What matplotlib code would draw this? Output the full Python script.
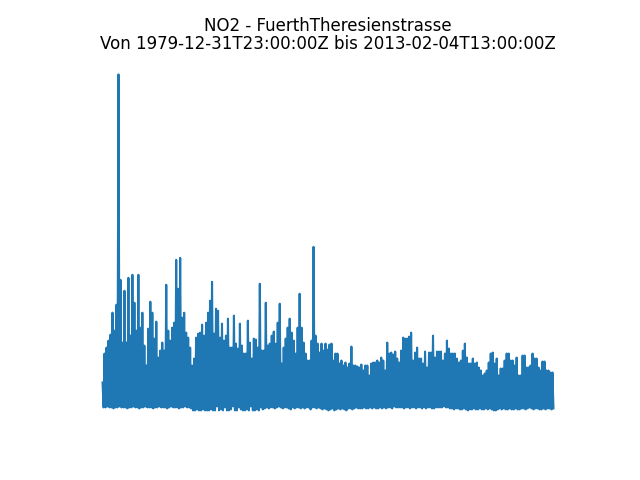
import numpy as np
import pandas as pd
import matplotlib
matplotlib.use("Agg")
import matplotlib.pyplot as plt

station = "FuerthTheresienstrasse"
start = "1979-12-31T23:00:00Z"
end = "2013-02-04T13:00:00Z"

# upper envelope of NO2 readings
peaks = [
    28, 57, 63, 70, 76, 98, 80, 106, 337, 131,
    68, 120, 68, 133, 75, 136, 108, 80, 136, 83,
    98, 65, 45, 82, 109, 98, 72, 89, 53, 60,
    68, 60, 126, 80, 70, 83, 88, 151, 122, 153,
    93, 98, 78, 73, 63, 45, 52, 73, 77, 78,
    86, 75, 88, 98, 110, 129, 77, 102, 100, 73,
    87, 70, 75, 92, 63, 63, 95, 67, 62, 87,
    65, 57, 57, 90, 68, 52, 72, 71, 63, 127,
    60, 60, 108, 65, 67, 75, 79, 67, 88, 107,
    47, 63, 72, 83, 92, 78, 70, 57, 83, 117,
    83, 68, 57, 50, 50, 70, 164, 75, 67, 58,
    67, 60, 67, 61, 66, 67, 50, 57, 57, 47,
    50, 45, 48, 43, 47, 64, 45, 45, 44, 43,
    46, 40, 45, 45, 35, 47, 48, 48, 50, 48,
    53, 50, 40, 68, 57, 58, 56, 59, 52, 48,
    60, 73, 72, 72, 74, 78, 50, 58, 63, 52,
    52, 47, 59, 43, 58, 58, 75, 53, 59, 59,
    59, 50, 57, 70, 62, 57, 57, 57, 52, 48,
    50, 60, 67, 53, 47, 47, 52, 47, 48, 43,
    40, 35, 37, 40, 48, 57, 58, 47, 52, 35,
    42, 42, 50, 57, 57, 50, 50, 45, 53, 35,
    35, 55, 55, 43, 43, 45, 57, 52, 52, 43,
    40, 49, 49, 40, 40, 38, 38,
]

# lower envelope of NO2 readings
troughs = [
    3, 3, 4, 3, 3, 2, 3, 3, 4, 3,
    3, 3, 2, 3, 3, 4, 3, 3, 2, 3,
    3, 4, 3, 3, 3, 2, 3, 3, 4, 3,
    3, 3, 2, 3, 4, 3, 3, 3, 2, 3,
    3, 4, 3, 3, 2, 0, 0, 1, 0, 0,
    1, 0, 0, 0, 1, 0, 0, 4, 0, 1,
    0, 3, 0, 0, 1, 4, 0, 0, 3, 1,
    0, 0, 1, 0, 4, 0, 0, 1, 0, 3,
    1, 2, 3, 2, 3, 3, 2, 3, 4, 3,
    2, 3, 3, 2, 1, 3, 2, 3, 3, 2,
    3, 2, 3, 3, 1, 3, 3, 2, 3, 2,
    1, 2, 1, 0, 1, 2, 0, 1, 2, 1,
    2, 1, 0, 2, 2, 1, 2, 3, 2, 2,
    2, 3, 2, 2, 3, 2, 3, 2, 2, 3,
    2, 3, 2, 3, 3, 2, 4, 3, 3, 3,
    3, 2, 3, 3, 2, 3, 3, 2, 3, 3,
    2, 3, 2, 3, 3, 2, 2, 3, 3, 3,
    3, 4, 3, 3, 2, 2, 1, 2, 2, 1,
    1, 2, 1, 0, 1, 1, 2, 1, 1, 2,
    1, 1, 2, 1, 2, 1, 0, 0, 1, 2,
    1, 2, 1, 1, 2, 1, 1, 2, 1, 1,
    2, 2, 1, 2, 3, 2, 1, 2, 2, 1,
    1, 2, 1, 2, 2, 1, 2,
]

n = min(len(peaks), len(troughs))
values = np.column_stack([peaks[:n], troughs[:n]]).ravel()
times = pd.date_range(start[:-1], end[:-1], periods=len(values))

fig, ax = plt.subplots(figsize=(6.4, 4.8), dpi=100)
ax.plot(times, values, color="#1f77b4", linewidth=1.5)
ax.set_title(f"NO2 - {station}\nVon {start} bis {end}", linespacing=1.0)
ax.axis("off")
fig.savefig("out.png", dpi=100)
